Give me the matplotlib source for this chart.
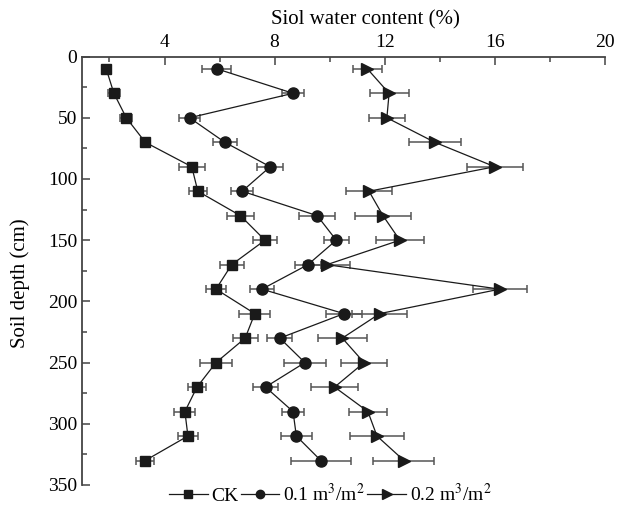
import matplotlib.pyplot as plt
from matplotlib.ticker import MultipleLocator

plt.rcParams['font.family'] = ['Liberation Serif', 'DejaVu Serif']
plt.rcParams['mathtext.fontset'] = 'stix'

depth = [10, 30, 50, 70, 90, 110, 130, 150, 170, 190, 210, 230, 250, 270, 290, 310, 330]

ck = [1.88, 2.16, 2.61, 3.30, 4.99, 5.21, 6.76, 7.65, 6.44, 5.87, 7.28, 6.93, 5.87, 5.18, 4.74, 4.85, 3.30]
ck_err = [0.12, 0.21, 0.21, 0.12, 0.48, 0.33, 0.48, 0.42, 0.43, 0.36, 0.57, 0.46, 0.57, 0.33, 0.38, 0.35, 0.33]

w01 = [5.90, 8.67, 4.91, 6.19, 7.84, 6.82, 9.55, 10.24, 9.21, 7.54, 10.52, 8.19, 9.10, 7.67, 8.67, 8.79, 9.68]
w01_err = [0.53, 0.41, 0.38, 0.44, 0.48, 0.40, 0.66, 0.45, 0.47, 0.42, 0.67, 0.45, 0.77, 0.47, 0.40, 0.56, 1.08]

w02 = [11.37, 12.16, 12.08, 13.82, 16.00, 11.43, 11.94, 12.55, 9.90, 16.18, 11.82, 10.46, 11.25, 10.18, 11.39, 11.72, 12.70]
w02_err = [0.53, 0.71, 0.66, 0.95, 1.02, 0.83, 1.01, 0.87, 0.83, 0.98, 1.00, 0.88, 0.84, 0.84, 0.70, 0.98, 1.11]

fig = plt.figure(figsize=(6.33, 5.07), dpi=100)
ax = fig.add_axes([0.1295, 0.0434, 0.826, 0.845])

series = [
    (ck, ck_err, 's', 'CK', 7),
    (w01, w01_err, 'o', r'0.1 m$^3$/m$^2$', 8),
    (w02, w02_err, '>', r'0.2 m$^3$/m$^2$', 9),
]
for vals, err, mk, lab, ms in series:
    ax.errorbar(vals, depth, xerr=err, fmt='none', ecolor='#555555',
                elinewidth=1.1, capsize=3, capthick=1.1, zorder=2)
    ax.plot(vals, depth, color='#1a1a1a', lw=0.9, marker=mk, ms=ms,
            mfc='#1a1a1a', mec='#1a1a1a', label=lab, zorder=3)

ax.set_xlim(1, 20)
ax.set_ylim(350, 0)
ax.xaxis.tick_top()
ax.xaxis.set_label_position('top')
ax.xaxis.set_major_locator(MultipleLocator(4))
ax.xaxis.set_minor_locator(MultipleLocator(2))
ax.yaxis.set_major_locator(MultipleLocator(50))
ax.yaxis.set_minor_locator(MultipleLocator(25))
ax.tick_params(which='both', direction='in', labelsize=14, color='#444444', width=1.1)
ax.tick_params(which='major', length=6)
ax.tick_params(which='minor', length=3.5)
ax.tick_params(axis='x', pad=4)
for s in ['bottom', 'right']:
    ax.spines[s].set_visible(False)
for s in ['top', 'left']:
    ax.spines[s].set_color('#444444')
    ax.spines[s].set_linewidth(1.3)

ax.set_xlabel('Siol water content (%)', fontsize=15, labelpad=4)
ax.xaxis.set_label_coords(0.543, 1.075)
ax.set_ylabel('Soil depth (cm)', fontsize=15)
ax.yaxis.set_label_coords(-0.1, 0.47)

ax.legend(loc='upper center', bbox_to_anchor=(0.475, 0.005), ncol=3, frameon=False,
          fontsize=14, handlelength=2.0, handletextpad=0.2, columnspacing=0.1,
          borderaxespad=0, borderpad=0, markerscale=0.75)

fig.savefig('out.png', dpi=100)
